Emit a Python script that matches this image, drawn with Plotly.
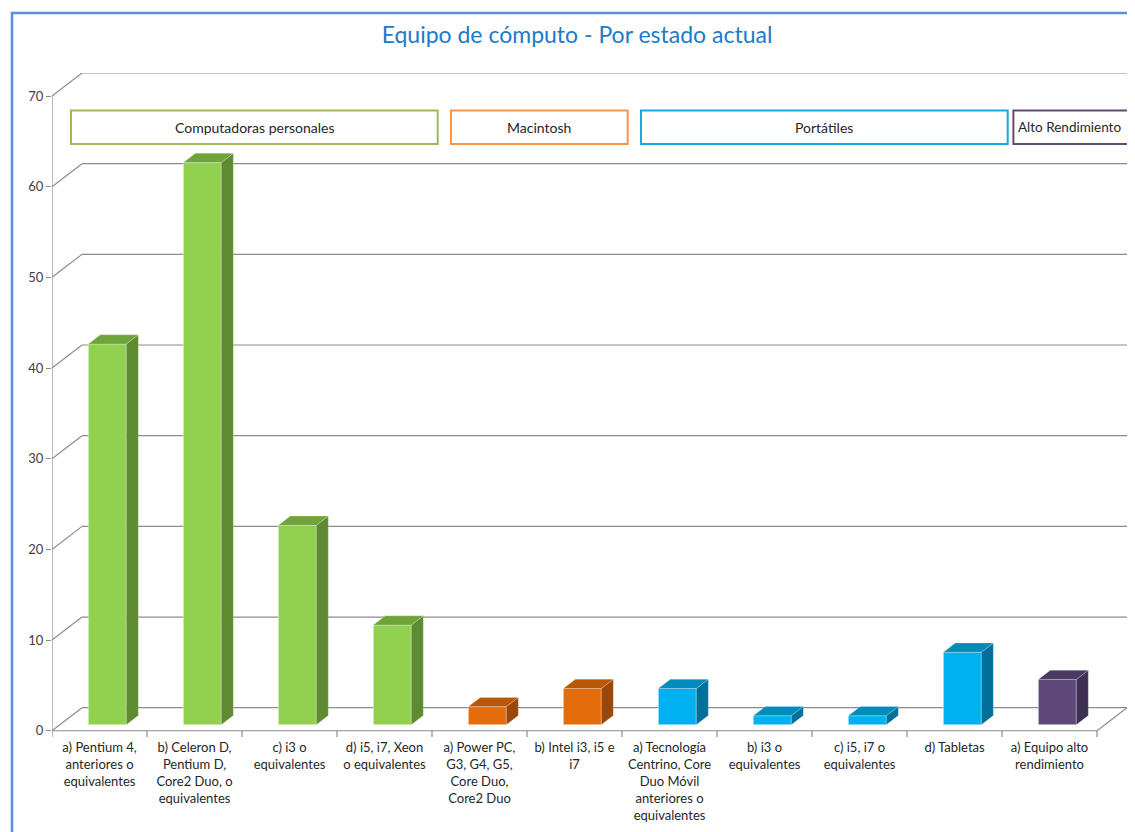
import plotly.graph_objects as go

# ---------------- datos ----------------
categories = [
    "a) Pentium 4,<br>anteriores o<br>equivalentes",
    "b) Celeron D,<br>Pentium D,<br>Core2 Duo, o<br>equivalentes",
    "c) i3 o<br>equivalentes",
    "d) i5, i7, Xeon<br>o equivalentes",
    "a) Power PC,<br>G3, G4, G5,<br>Core Duo,<br>Core2 Duo",
    "b) Intel i3, i5 e<br>i7",
    "a) Tecnología<br>Centrino, Core<br>Duo Móvil<br>anteriores o<br>equivalentes",
    "b) i3 o<br>equivalentes",
    "c) i5, i7 o<br>equivalentes",
    "d) Tabletas",
    "a) Equipo alto<br>rendimiento",
]
values = [42, 62, 22, 11, 2, 4, 4, 1, 1, 8, 5]
bar_group = [0, 0, 0, 0, 1, 1, 2, 2, 2, 2, 3]
group_names = ["Computadoras personales", "Macintosh", "Portátiles", "Alto Rendimiento"]
y_ticks = [0, 10, 20, 30, 40, 50, 60, 70]

# colores por grupo: frente, tapa, lado, borde del recuadro
front_colors = ["#92D050", "#E46C0A", "#00B0F0", "#5F497A"]
top_colors = ["#71A33B", "#B95708", "#008BBE", "#4B3A63"]
side_colors = ["#5E8A31", "#994807", "#00709A", "#3E3052"]
box_colors = ["#9BBB59", "#F79646", "#17A9E6", "#604A7B"]

# ---------------- geometría "3D" ----------------
DX, DY = 0.316, 2.54      # profundidad de la pared (unidades de categoría / valor)
BAR_W = 0.4
Z0, Z1 = 0.26, 0.66       # profundidad de la cara frontal y trasera de la barra
n = len(values)
x_lo, x_hi = -0.5, n - 0.5
X_RANGE = [x_lo, x_hi + DX + 0.084]
Y_RANGE = [-0.8, y_ticks[-1] + DY]
GRID = "#8C8C8C"

fig = go.Figure()

# caras frontales
for g in range(len(group_names)):
    idx = [i for i in range(n) if bar_group[i] == g]
    fig.add_trace(go.Bar(
        x=[i + DX * Z0 for i in idx],
        y=[values[i] for i in idx],
        base=DY * Z0,
        width=BAR_W,
        marker=dict(color=front_colors[g], line=dict(color="rgba(255,255,255,0.45)", width=1)),
        showlegend=False, hoverinfo="skip",
    ))

# lados y tapas
ddx, ddy = DX * (Z1 - Z0), DY * (Z1 - Z0)
for i, v in enumerate(values):
    g = bar_group[i]
    xl = i + DX * Z0 - BAR_W / 2
    xr = i + DX * Z0 + BAR_W / 2
    b = DY * Z0
    t = b + v
    fig.add_trace(go.Scatter(
        x=[xr, xr + ddx, xr + ddx, xr, xr], y=[b, b + ddy, t + ddy, t, b],
        fill="toself", fillcolor=side_colors[g], mode="lines",
        line=dict(color="rgba(255,255,255,0.35)", width=0.6),
        showlegend=False, hoverinfo="skip"))
    fig.add_trace(go.Scatter(
        x=[xl, xl + ddx, xr + ddx, xr, xl], y=[t, t + ddy, t + ddy, t, t],
        fill="toself", fillcolor=top_colors[g], mode="lines",
        line=dict(color="rgba(255,255,255,0.35)", width=0.6),
        showlegend=False, hoverinfo="skip"))

# paredes, piso y cuadrícula
shapes = []
def seg(x0, y0, x1, y1, color=GRID, w=1.2):
    shapes.append(dict(type="line", xref="x", yref="y", x0=x0, y0=y0, x1=x1, y1=y1,
                       line=dict(color=color, width=w), layer="below"))

for v in y_ticks:
    seg(x_lo, v, x_lo + DX, v + DY)
    seg(x_lo + DX, v + DY, x_hi + DX, v + DY)
seg(x_lo, 0, x_lo, y_ticks[-1])
seg(x_lo, 0, x_hi, 0)
seg(x_hi, 0, x_hi + DX, DY)
for k in range(n + 1):
    seg(x_lo + k, 0, x_lo + k, -0.7)

# recuadros de grupos
annotations = []
for g, name in enumerate(group_names):
    idx = [i for i in range(n) if bar_group[i] == g]
    left = min(idx) - 0.5 + 0.2
    last = g == len(group_names) - 1
    if last:
        left -= 0.08
    right = X_RANGE[1] + 0.3 if last else max(idx) + 0.5 + 0.06
    shapes.append(dict(type="rect", xref="x", yref="y", x0=left, x1=right, y0=64.7, y1=68.4,
                       line=dict(color=box_colors[g], width=2), fillcolor="white", layer="above"))
    annotations.append(dict(x=left + 0.03 if last else (left + right) / 2, y=66.55,
                            xref="x", yref="y", text=name, showarrow=False,
                            xanchor="left" if last else "center",
                            font=dict(family="Lato", size=14 if not last else 13.5, color="#262626")))

# marco del gráfico (coordenadas de papel); la página añade 8 px de margen
W, H = 1127, 824
PL, PT = 44, 65
PW, PH = W - PL, 665
def px(x): return (x - 8 - PL) / PW
def py(y): return (PT + PH - (y - 8)) / PH
shapes.append(dict(type="path", xref="paper", yref="paper",
                   path=f"M {px(12)} {py(840)} L {px(12)} {py(13)} L {px(1140)} {py(13)}",
                   line=dict(color="#5B8FD6", width=2.5)))

fig.update_layout(
    width=W, height=H,
    margin=dict(l=PL, r=0, t=PT, b=H - PT - PH),
    paper_bgcolor="white", plot_bgcolor="white",
    barmode="overlay",
    title=dict(text="Equipo de cómputo - Por estado actual", x=569 / W, xanchor="center",
               y=1 - 27 / H, yanchor="middle",
               font=dict(family="Lato", size=23, color="#1C7BC9")),
    shapes=shapes, annotations=annotations,
    font=dict(family="Lato", size=13, color="#404040"),
)
fig.update_xaxes(range=X_RANGE, tickvals=list(range(n)), ticktext=categories,
                 showgrid=False, zeroline=False, showline=False, ticks="",
                 tickfont=dict(family="Lato", size=13, color="#262626"), tickangle=0)
fig.update_yaxes(range=Y_RANGE, tickvals=y_ticks, showgrid=False, zeroline=False,
                 showline=False, ticks="outside", ticklen=5, tickcolor=GRID,
                 tickfont=dict(family="Lato", size=13, color="#404040"))

fig.write_html("out.html")
